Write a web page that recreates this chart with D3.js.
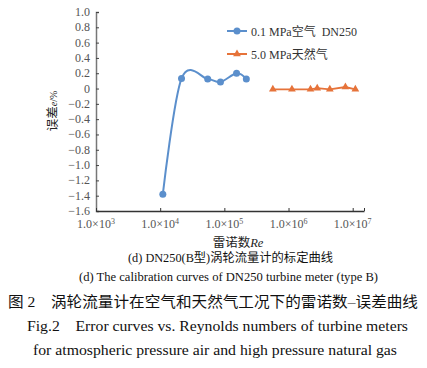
<!DOCTYPE html>
<html><head><meta charset="utf-8">
<script src="https://cdn.jsdelivr.net/npm/d3@7"></script>
<style>
html,body{margin:0;padding:0;background:#fff;}
svg{display:block;}
</style></head>
<body>
<svg id="c" width="427" height="368"></svg>
<script>
// ---- data ----
const airRe = [1.1e4, 2.15e4, 5.5e4, 8.7e4, 1.55e5, 2.2e5];
const airErr = [-1.38, 0.13, 0.125, 0.085, 0.2, 0.125];
const gasRe = [5.7e5, 1.13e6, 2.2e6, 2.8e6, 4.4e6, 7.7e6, 1.1e7];
const gasErr = [-0.01, -0.01, -0.01, 0.005, -0.01, 0.02, -0.01];
const xTicks = [1e3, 1e4, 1e5, 1e6, 1e7];
const xTickExp = ["3", "4", "5", "6", "7"];
const yTicks = [1.0, 0.8, 0.6, 0.4, 0.2, 0, -0.2, -0.4, -0.6, -0.8, -1.0, -1.2, -1.4, -1.6];
const seriesNames = ["0.1 MPa空气  DN250", "5.0 MPa天然气"];
const colors = ["#5b8fcc", "#e6733a"];

const svg = d3.select("#c");
const serif = "'Liberation Serif','Times New Roman','Noto Sans CJK SC',serif";
const x = d3.scaleLog().domain([1e3, 1.5e7]).range([96, 364]);
const y = d3.scaleLinear().domain([-1.6, 1.0]).range([211, 12]);

// y axis
const ya = svg.append("g").attr("transform", "translate(96,0)")
  .call(d3.axisRight(y).tickValues(yTicks).tickSize(3).tickFormat(""));
ya.select(".domain").attr("stroke", "#777").attr("stroke-width", 1.5);
ya.selectAll(".tick line").attr("stroke", "#444");
svg.append("g").selectAll("text").data(yTicks).join("text")
  .attr("x", 90).attr("y", d => y(d) + 4)
  .attr("text-anchor", "end")
  .attr("font-family", serif).attr("font-size", 12).attr("fill", "#555")
  .text(d => d === 0 ? "0" : (d < 0 ? "\u2212" : "") + Math.abs(d).toFixed(1));

// x axis
const xa = svg.append("g").attr("transform", "translate(0,211)")
  .call(d3.axisTop(x).tickValues(xTicks.concat([1.5e7])).tickSize(3).tickSizeOuter(0).tickFormat(""));
xa.select(".domain").attr("stroke", "#333").attr("stroke-width", 1.3);
xa.selectAll(".tick line").attr("stroke", "#333");
const xl = svg.append("g").selectAll("text").data(xTicks).join("text")
  .attr("x", d => x(d)).attr("y", 228)
  .attr("text-anchor", "middle")
  .attr("font-family", serif).attr("font-size", 12).attr("fill", "#555");
xl.append("tspan").text("1.0\u00d710");
xl.append("tspan").attr("dy", -4).attr("font-size", 8).text((d, i) => xTickExp[i]);

// axis titles
const xt = svg.append("text").attr("x", 238).attr("y", 247).attr("text-anchor", "middle")
  .attr("font-family", serif).attr("font-size", 12.5).attr("fill", "#222");
xt.append("tspan").text("雷诺数");
xt.append("tspan").attr("font-style", "italic").text("Re");

const yt = svg.append("text").attr("transform", "translate(57,111) rotate(-90)").attr("text-anchor", "middle")
  .attr("font-family", serif).attr("font-size", 12.5).attr("fill", "#222");
yt.append("tspan").text("误差");
yt.append("tspan").attr("font-style", "italic").attr("font-size", 10).text("e");
yt.append("tspan").attr("font-size", 10).text("/%");

// series
const airPts = airRe.map((r, i) => [x(r), y(airErr[i])]);
const gasPts = gasRe.map((r, i) => [x(r), y(gasErr[i])]);
svg.append("path").attr("d", d3.line().curve(d3.curveCardinal.tension(0))(airPts))
  .attr("fill", "none").attr("stroke", colors[0]).attr("stroke-width", 2);
svg.append("g").selectAll("circle").data(airPts).join("circle")
  .attr("cx", d => d[0]).attr("cy", d => d[1]).attr("r", 3.5).attr("fill", colors[0]);
svg.append("path").attr("d", d3.line()(gasPts))
  .attr("fill", "none").attr("stroke", colors[1]).attr("stroke-width", 1.8);
const tri = d3.symbol().type(d3.symbolTriangle).size(26);
svg.append("g").selectAll("path").data(gasPts).join("path")
  .attr("transform", d => `translate(${d[0]},${d[1]})`).attr("d", tri).attr("fill", colors[1]);

// legend
const lg = svg.append("g");
[0, 1].forEach(i => {
  const ly = 31 + i * 23;
  lg.append("line").attr("x1", 227).attr("x2", 247).attr("y1", ly).attr("y2", ly)
    .attr("stroke", colors[i]).attr("stroke-width", 2);
  if (i === 0) lg.append("circle").attr("cx", 237).attr("cy", ly).attr("r", 3.5).attr("fill", colors[0]);
  else lg.append("path").attr("transform", `translate(237,${ly})`).attr("d", tri).attr("fill", colors[1]);
  lg.append("text").attr("x", 251).attr("y", ly + 4.5)
    .attr("font-family", serif).attr("font-size", 12).attr("fill", "#333")
    .style("white-space", "pre").text(seriesNames[i]);
});

// captions
const caps = [
  {t: "(d) DN250(B型)涡轮流量计的标定曲线", x: 128, y: 262, w: 205, s: 12},
  {t: "(d) The calibration curves of DN250 turbine meter (type B)", x: 79, y: 281, w: 299, s: 11.5},
  {t: "图 2    涡轮流量计在空气和天然气工况下的雷诺数–误差曲线", x: 8, y: 307, w: 410, s: 15},
  {t: "Fig.2    Error curves vs. Reynolds numbers of turbine meters", x: 27, y: 331, w: 381, s: 14},
  {t: "for atmospheric pressure air and high pressure natural gas", x: 33, y: 355, w: 364, s: 14}
];
svg.append("g").selectAll("text").data(caps).join("text")
  .attr("x", d => d.x).attr("y", d => d.y)
  .attr("textLength", d => d.w).attr("lengthAdjust", "spacingAndGlyphs")
  .attr("font-family", serif).attr("font-size", d => d.s).attr("fill", "#111")
  .style("white-space", "pre").text(d => d.t);
</script>
</body></html>
